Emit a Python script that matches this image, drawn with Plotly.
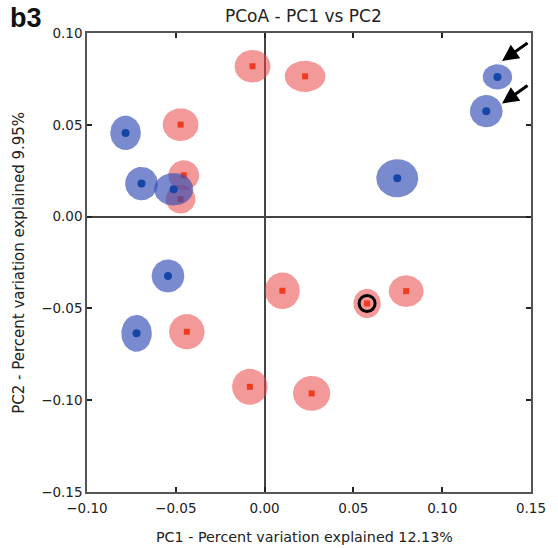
import numpy as np
import plotly.graph_objects as go

# PCoA sample coordinates (PC1, PC2) with jackknife spread (half-widths) per axis
red_pc1 = [-0.0068, 0.0228, -0.0473, -0.0455, -0.0473, 0.0100, 0.0577, 0.0797, -0.0438, -0.0083, 0.0265]
red_pc2 = [0.0819, 0.0764, 0.0501, 0.0225, 0.0095, -0.0404, -0.0473, -0.0406, -0.0627, -0.0927, -0.0963]
red_sd1 = [0.0101, 0.0115, 0.0101, 0.0087, 0.0084, 0.0098, 0.0077, 0.0098, 0.0100, 0.0100, 0.0105]
red_sd2 = [0.0089, 0.0085, 0.0089, 0.0082, 0.0078, 0.0100, 0.0080, 0.0086, 0.0096, 0.0098, 0.0095]

blue_pc1 = [-0.0783, -0.0693, -0.0512, 0.0747, 0.1311, 0.1248, -0.0544, -0.0721]
blue_pc2 = [0.0456, 0.0180, 0.0149, 0.0209, 0.0761, 0.0574, -0.0323, -0.0636]
blue_sd1 = [0.0086, 0.0092, 0.0110, 0.0118, 0.0083, 0.0092, 0.0092, 0.0086]
blue_sd2 = [0.0094, 0.0091, 0.0089, 0.0104, 0.0069, 0.0088, 0.0090, 0.0100]

ringed_red = [6]                 # red sample circled in black
arrow_tip_pc1 = [0.1337, 0.1337]  # arrows pointing at the two upper-right samples
arrow_tip_pc2 = [0.0848, 0.0616]

x_ticks = [-0.10, -0.05, 0.00, 0.05, 0.10, 0.15]
y_ticks = [-0.15, -0.10, -0.05, 0.00, 0.05, 0.10]
x_ticktext = ["\u22120.10", "\u22120.05", "0.00", "0.05", "0.10", "0.15"]
y_ticktext = ["\u22120.15", "\u22120.10", "\u22120.05", "0.00", "0.05", "0.10"]

FONT = "DejaVu Sans"
RED_FILL = "rgba(235,70,70,0.55)"
RED_MARK = "#f03c1e"
BLUE_FILL = "rgba(50,75,180,0.65)"
BLUE_MARK = "#1446a8"

theta = np.linspace(0, 2 * np.pi, 73)

fig = go.Figure()


def add_group(xs, ys, rxs, rys, fill, mark_color, symbol, size):
    for cx, cy, rx, ry in zip(xs, ys, rxs, rys):
        fig.add_trace(go.Scatter(
            x=cx + rx * np.cos(theta), y=cy + ry * np.sin(theta),
            mode="lines", fill="toself", fillcolor=fill,
            line=dict(width=0, color=fill), hoverinfo="skip", showlegend=False))
    fig.add_trace(go.Scatter(
        x=xs, y=ys, mode="markers",
        marker=dict(symbol=symbol, size=size, color=mark_color, line=dict(width=0)),
        showlegend=False))


add_group(red_pc1, red_pc2, red_sd1, red_sd2, RED_FILL, RED_MARK, "square", 6)
add_group(blue_pc1, blue_pc2, blue_sd1, blue_sd2, BLUE_FILL, BLUE_MARK, "circle", 8)

fig.add_trace(go.Scatter(
    x=[red_pc1[i] for i in ringed_red], y=[red_pc2[i] for i in ringed_red],
    mode="markers",
    marker=dict(symbol="circle-open", size=16, color="black", line=dict(width=3, color="black")),
    showlegend=False))

# plot area spans 446 px horizontally and 459 px vertically
PW, PH = 446, 459

annotations = []
for tx, ty in zip(arrow_tip_pc1, arrow_tip_pc2):
    annotations.append(dict(
        x=tx, y=ty, xref="x", yref="y", text="", showarrow=True,
        ax=27, ay=-19, arrowhead=2, arrowsize=1.1, arrowwidth=3, arrowcolor="black",
        standoff=0))

annotations += [
    dict(text="<b>b3</b>", xref="paper", yref="paper",
         x=(8 - 87) / PW, y=1 + (33 - 18) / PH, xanchor="left", yanchor="middle",
         showarrow=False, font=dict(family="Liberation Sans", size=27, color="#111")),
    dict(text="PC2 - Percent variation explained 9.95%", textangle=-90,
         xref="paper", yref="paper", x=(18 - 87) / PW, y=0.5,
         xanchor="center", yanchor="middle", showarrow=False,
         font=dict(family=FONT, size=15, color="#222")),
    dict(text="PC1 - Percent variation explained 12.13%",
         xref="paper", yref="paper", x=(305 - 87) / PW, y=-(537 - 492) / PH,
         xanchor="center", yanchor="middle", showarrow=False,
         font=dict(family=FONT, size=14.3, color="#222")),
    dict(text="PCoA - PC1 vs PC2",
         xref="paper", yref="paper", x=(304 - 87) / PW, y=1 + (33 - 16) / PH,
         xanchor="center", yanchor="middle", showarrow=False,
         font=dict(family=FONT, size=17, color="#222")),
]

axis_common = dict(
    showgrid=False, zeroline=True, zerolinecolor="#444", zerolinewidth=1.5,
    showline=True, linecolor="#555", linewidth=1.5, mirror="ticks",
    ticks="inside", ticklen=5, tickwidth=1.5, tickcolor="#222",
    tickfont=dict(family=FONT, size=13.5, color="#222"),
)

fig.update_layout(
    width=558, height=548,
    margin=dict(l=87, r=25, t=33, b=56),
    paper_bgcolor="white", plot_bgcolor="white",
    showlegend=False,
    xaxis=dict(range=[-0.10, 0.15], tickvals=x_ticks, ticktext=x_ticktext,
               ticklabelstandoff=3, **axis_common),
    yaxis=dict(range=[-0.15, 0.10], tickvals=y_ticks, ticktext=y_ticktext, **axis_common),
    annotations=annotations,
)

fig.write_html("out.html")
